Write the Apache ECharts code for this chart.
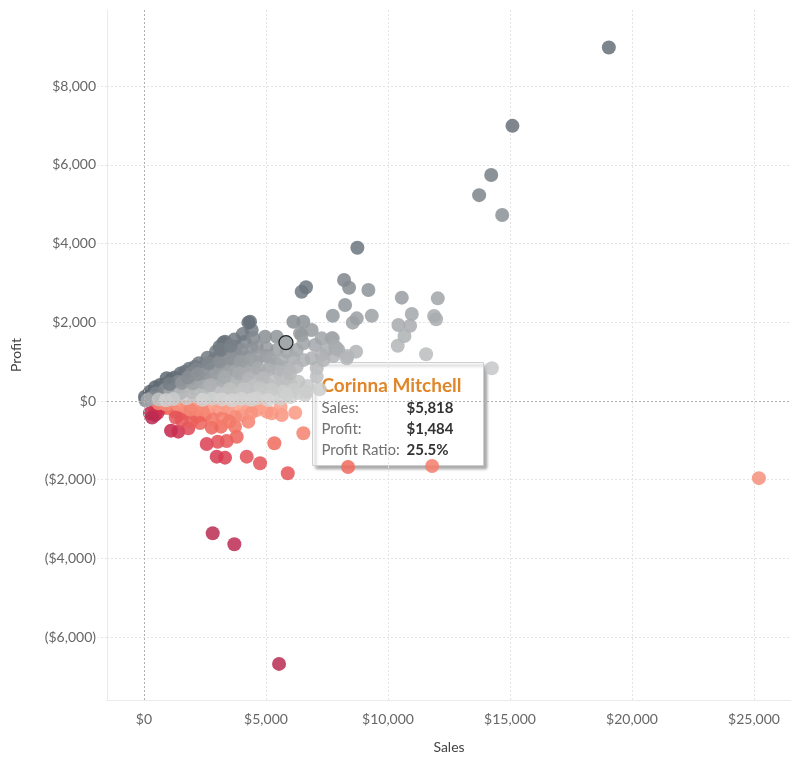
<!DOCTYPE html>
<html>
<head>
<meta charset="utf-8">
<script src="https://cdn.jsdelivr.net/npm/echarts@6/dist/echarts.min.js"></script>
<style>
  html, body { margin: 0; padding: 0; background: #fff; }
  #chart { width: 791px; height: 757px; }
</style>
</head>
<body>
<div id="chart"></div>
<script>
// --- Data: [sales, profit] per customer ---
const profitableCustomers = [
  [19050, 8980], [15100, 6990], [14230, 5740], [13735, 5230], [14680, 4725],
  [8745, 3893], [8200, 3073], [8405, 2878], [9197, 2820], [8241, 2438], [7737, 2167], [9335, 2167], [8720, 2100], [8556, 1990],
  [10565, 2625], [12040, 2608], [10975, 2210], [10427, 1930], [10906, 1913], [11890, 2160], [11972, 2075], [10674, 1651], [10400, 1405], [11562, 1186],
  [7737, 1592], [7900, 1338], [8692, 1253], [8336, 1143], [7762, 1143], [14256, 830],
  [6462, 2777], [6639, 2888], [6121, 2015], [6531, 2015], [4346, 2015], [4414, 1803], [3321, 1507], [4961, 1634], [5439, 1634],
  [6462, 1677], [6873, 1803], [7283, 1592], [7695, 1592],
  // dense wedge, upper edge
  [60, 20], [41, 109], [246, 236], [451, 347], [656, 406], [930, 576], [1135, 551], [1340, 533], [1681, 745], [2091, 872],
  [2433, 872], [2843, 1042], [3253, 1482], [3526, 1296], [3800, 1380], [4141, 1507], [4277, 1990], [3390, 1210], [3048, 1126],
  [120, 50], [200, 110], [350, 170], [520, 250], [800, 380], [1000, 470], [1250, 600], [1500, 700], [1850, 820], [2250, 960],
  [2600, 1100], [2950, 1250], [3100, 1380], [3700, 1560], [4050, 1700],
  // dense wedge, interior
  [314, 68], [724, 109], [998, 152], [1340, 109], [1749, 68], [2160, 109], [2570, 109], [2980, 152], [3390, 152], [3800, 109], [4210, 109],
  [861, 279], [1271, 322], [1681, 364], [2091, 322], [2501, 364], [2911, 364], [3321, 406], [3731, 347], [4141, 381],
  [1407, 491], [1816, 533], [2228, 576], [2637, 618], [3048, 635], [3458, 660], [3868, 618], [4277, 660],
  [1954, 703], [2365, 745], [2775, 804], [3185, 872], [3595, 914], [4004, 872], [4414, 914], [2980, 914], [3390, 999], [3800, 1059],
  [4210, 1126], [3731, 1210], [4004, 1296], [4414, 1338], [4482, 1592],
  [500, 190], [1100, 230], [1500, 200], [1950, 220], [2350, 240], [2750, 260], [3150, 250], [3550, 230], [3950, 240], [4400, 250],
  [1050, 430], [1550, 460], [2000, 450], [2400, 480], [2800, 500], [3200, 520], [3600, 480], [4000, 500], [4450, 470],
  [2150, 800], [2550, 700], [2950, 720], [3350, 760], [3750, 780], [4150, 750], [4600, 700],
  [2650, 960], [3100, 1000], [3550, 1080], [3950, 1000], [4400, 1050], [3150, 1300], [3550, 1400],
  [1800, 600], [2200, 680], [2700, 400], [3300, 600], [3900, 700], [4300, 560], [4700, 480], [4900, 700], [5200, 900],
  [4600, 1000], [5000, 1150], [5400, 950], [5700, 850], [5600, 620], [5100, 420], [4500, 380], [4100, 300], [3500, 300],
  [150, 30], [600, 40], [900, 20], [1200, 50], [2400, 30], [2800, 60], [3200, 40], [3600, 20], [4000, 50], [4400, 30],
  [5300, 120], [5600, 60], [6000, 100], [6300, 200], [4800, 180], [5500, 360], [6000, 420], [6700, 380], [7200, 300],
  // right part of the wedge
  [6396, 1719], [7831, 1380], [7490, 1296], [7011, 1422], [6531, 1465], [6258, 1296], [5851, 1253], [5441, 1296], [5029, 1338],
  [4619, 1380], [4756, 1126], [5166, 1084], [5645, 1042], [6121, 1084], [6531, 1042], [6258, 872], [5918, 787], [5509, 745],
  [5097, 787], [4686, 830], [4891, 576], [5371, 491], [5851, 533], [6326, 491], [6121, 279], [5713, 236], [5234, 279], [4756, 322],
  [6601, 152], [4619, 68], [5097, 25], [7080, 830], [6873, 1084], [7283, 1168], [7967, 1296],
  [5851, 152], [6669, 236], [7080, 618], [7352, 1042], [8310, 1084], [5984, 703]
];

const unprofitableCustomers = [
  [246, -313], [451, -356], [1107, -754], [1407, -779], [1816, -694], [2570, -1092], [2980, -1414], [3321, -1440],
  [3021, -1034], [3390, -1016], [3800, -907], [4210, -1414], [4756, -1583], [5892, -1837], [5343, -1075], [6531, -821],
  [2775, -677], [3157, -652], [3731, -652], [4277, -525], [3731, -398], [4619, -229], [5234, -313], [5645, -356],
  [3458, -229], [3048, -229], [2501, -356], [2160, -398], [1681, -313], [1271, -271], [998, -186], [724, -186], [451, -229],
  [1544, -483], [1954, -525], [2800, -457], [3211, -440], [4004, -356], [2706, -144], [2228, -144], [1749, -144], [1407, -102],
  [4277, -144], [5029, -271], [560, -300], [330, -420],
  [600, -60], [900, -90], [2000, -80], [3000, -60], [3900, -70], [4800, -100], [2400, -250], [1900, -220],
  [1300, -420], [2300, -560], [3500, -520], [4400, -300], [3300, -120], [5600, -150], [6200, -300],
  [8364, -1676], [11808, -1651], [25200, -1960], [2816, -3361], [3703, -3640], [5535, -6680]
];

const highlighted = { name: 'Corinna Mitchell', sales: 5818, profit: 1484 };

const xTicks = [0, 5000, 10000, 15000, 20000, 25000];
const yTicks = [-6000, -4000, -2000, 0, 2000, 4000, 6000, 8000];

const lossColors = ['#bb2b52', '#be1f47', '#c8274c', '#dc4455', '#f06a5c', '#fca790'];
const gainColors = ['#d6d6d6', '#bbbdbe', '#a3a7aa', '#8e9499', '#788087', '#5e6872'];

const money = v => {
  const s = '$' + Math.abs(v).toLocaleString('en-US');
  return v < 0 ? '(' + s + ')' : s;
};

// third dimension = profit ratio (clamped) for colour
const withRatio = rows => rows.map(([s, p]) => [s, p, Math.max(-1, Math.min(0.5, p / s))]);

const FONT = 'Lato';
const chart = echarts.init(document.getElementById('chart'));

const option = {
  animation: false,
  textStyle: { fontFamily: FONT },
  grid: { left: 107, right: 0, top: 10, bottom: 57, outerBoundsMode: 'none' },
  xAxis: {
    type: 'value',
    min: -1516,
    max: 26516,
    name: 'Sales',
    nameLocation: 'middle',
    nameGap: 40,
    nameTextStyle: { color: '#444', fontSize: 14, fontFamily: FONT },
    axisLine: { show: true, onZero: false, lineStyle: { color: '#ebebeb' } },
    axisTick: { show: false, customValues: xTicks },
    axisLabel: { customValues: xTicks, color: '#666', fontSize: 14, margin: 12, formatter: money },
    splitLine: { show: true, lineStyle: { color: '#e3e3e3', type: [2, 2] } }
  },
  yAxis: {
    type: 'value',
    min: -7597,
    max: 9934,
    name: 'Profit',
    nameLocation: 'middle',
    nameGap: 84,
    nameTextStyle: { color: '#444', fontSize: 14, fontFamily: FONT },
    axisLine: { show: true, onZero: false, lineStyle: { color: '#ebebeb' } },
    axisTick: { show: true, customValues: yTicks, length: 9, lineStyle: { color: '#e3e3e3', type: [2, 2] } },
    axisLabel: { customValues: yTicks, color: '#666', fontSize: 14, margin: 11, formatter: money },
    splitLine: { show: true, lineStyle: { color: '#e3e3e3', type: [2, 2] } }
  },
  visualMap: [
    { type: 'continuous', show: false, seriesIndex: 0, dimension: 2, min: -1, max: 0, inRange: { color: lossColors } },
    { type: 'continuous', show: false, seriesIndex: 1, dimension: 2, min: 0, max: 0.5, inRange: { color: gainColors } }
  ],
  series: [
    {
      name: 'Loss',
      type: 'scatter',
      symbolSize: 14,
      itemStyle: { opacity: 0.85 },
      data: withRatio(unprofitableCustomers),
      markLine: {
        silent: true,
        symbol: 'none',
        label: { show: false },
        lineStyle: { color: '#b0b0b0', type: [2, 2], width: 1 },
        data: [{ xAxis: 0 }, { yAxis: 0 }]
      }
    },
    {
      name: 'Profit',
      type: 'scatter',
      symbolSize: 14,
      itemStyle: { opacity: 0.85 },
      data: withRatio(profitableCustomers)
    },
    {
      name: highlighted.name,
      type: 'scatter',
      symbolSize: 14,
      z: 5,
      itemStyle: { color: '#a2a7ab', borderColor: '#222', borderWidth: 1.3, opacity: 1 },
      data: [[highlighted.sales, highlighted.profit]]
    }
  ],
  graphic: [
    {
      type: 'group',
      left: 312,
      top: 362,
      z: 100,
      children: [
        {
          type: 'rect',
          shape: { x: 0, y: 0, width: 171, height: 103 },
          style: {
            fill: '#fff', stroke: '#cfcfcf', lineWidth: 1,
            shadowColor: 'rgba(0,0,0,0.35)', shadowBlur: 3, shadowOffsetX: 3, shadowOffsetY: 3
          }
        },
        { type: 'text', x: 9, y: 23, style: { text: highlighted.name, fill: '#e0862a', font: 'bold 19px ' + FONT, verticalAlign: 'middle' } },
        { type: 'text', x: 9, y: 46, style: { text: 'Sales:', fill: '#707070', font: '15px ' + FONT, verticalAlign: 'middle' } },
        { type: 'text', x: 94, y: 46, style: { text: money(highlighted.sales), fill: '#333', font: 'bold 15px ' + FONT, verticalAlign: 'middle' } },
        { type: 'text', x: 9, y: 67, style: { text: 'Profit:', fill: '#707070', font: '15px ' + FONT, verticalAlign: 'middle' } },
        { type: 'text', x: 94, y: 67, style: { text: money(highlighted.profit), fill: '#333', font: 'bold 15px ' + FONT, verticalAlign: 'middle' } },
        { type: 'text', x: 9, y: 88, style: { text: 'Profit Ratio:', fill: '#707070', font: '15px ' + FONT, verticalAlign: 'middle' } },
        {
          type: 'text', x: 94, y: 88,
          style: { text: (highlighted.profit / highlighted.sales * 100).toFixed(1) + '%', fill: '#333', font: 'bold 15px ' + FONT, verticalAlign: 'middle' }
        }
      ]
    }
  ]
};

chart.setOption(option);
window.addEventListener('resize', () => chart.resize());
</script>
</body>
</html>
